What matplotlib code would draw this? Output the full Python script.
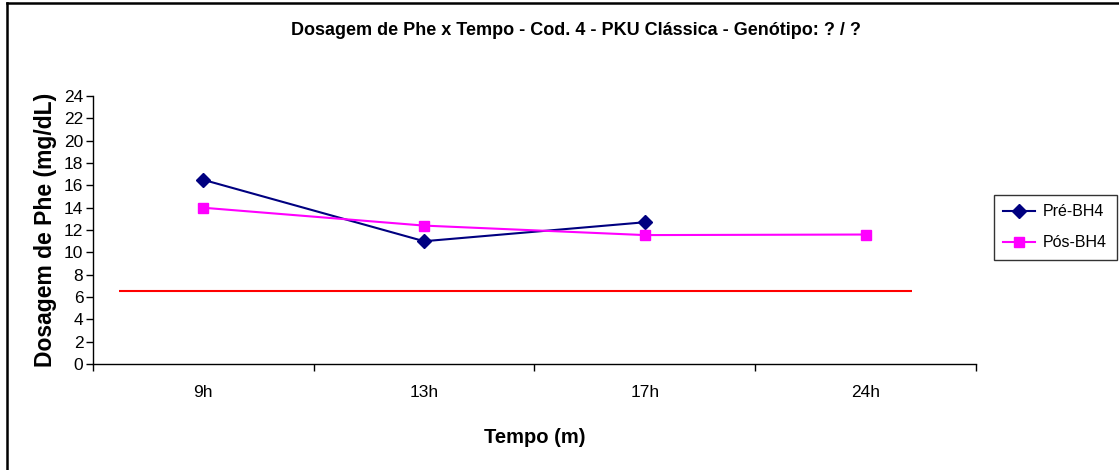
import matplotlib.pyplot as plt
from matplotlib.lines import Line2D

plt.rcParams["font.family"] = ["Liberation Sans", "DejaVu Sans"]

# Phe levels (mg/dL) at each collection time
tempos = ["9h", "13h", "17h", "24h"]
pre_bh4 = [16.5, 11.0, 12.7]
pos_bh4 = [14.0, 12.4, 11.55, 11.6]

# reference level and its horizontal extent (category units)
ref_level = 6.5
ref_start, ref_end = 0.12, 3.71

fig = plt.figure(figsize=(11.19, 4.70), dpi=100)
ax = fig.add_axes([0.0831, 0.2255, 0.789, 0.570])

x_pre = [i + 0.5 for i in range(len(pre_bh4))]
x_pos = [i + 0.5 for i in range(len(pos_bh4))]

ax.hlines(ref_level, ref_start, ref_end, color="#FF0000", lw=1.5, zorder=2)
ax.plot(x_pre, pre_bh4, color="#000080", lw=1.5, marker="D", ms=7,
        label="Pré-BH4", zorder=3)
ax.plot(x_pos, pos_bh4, color="#FF00FF", lw=1.5, marker="s", ms=7,
        label="Pós-BH4", zorder=3)

ax.set_xlim(0, len(tempos))
ax.set_ylim(0, 24)
ax.set_yticks(range(0, 25, 2))
ax.tick_params(axis="y", labelsize=12.5, length=5, width=1, pad=2)

# category ticks between bins, labels at centres
ax.set_xticks(range(len(tempos) + 1))
ax.set_xticklabels([""] * (len(tempos) + 1))
ax.set_xticks([i + 0.5 for i in range(len(tempos))], minor=True)
ax.set_xticklabels(tempos, minor=True, fontsize=12.5)
ax.tick_params(axis="x", which="major", length=5, width=1)
ax.tick_params(axis="x", which="minor", length=0, pad=15)

for s in ["top", "right"]:
    ax.spines[s].set_visible(False)
for s in ["left", "bottom"]:
    ax.spines[s].set_linewidth(1)

ax.set_xlabel("Tempo (m)", fontsize=14.5, fontweight="bold", labelpad=20)
ax.set_ylabel("Dosagem de Phe (mg/dL)", fontsize=16.5, fontweight="bold",
              labelpad=5)
fig.text(0.515, 0.935, "Dosagem de Phe x Tempo - Cod. 4 - PKU Clássica - Genótipo: ? / ?",
         ha="center", va="center", fontsize=13, fontweight="bold")

leg = ax.legend(loc="center left", bbox_to_anchor=(1.02, 0.51), fontsize=11.5,
                frameon=True, fancybox=False, edgecolor="black",
                borderpad=0.6, handlelength=2.0, labelspacing=1.0,
                handletextpad=0.5, borderaxespad=0)
leg.get_frame().set_linewidth(1)

# outer chart border: left and top edges
fig.add_artist(Line2D([0.0063, 0.0063], [0.0, 0.993], color="black", lw=1.8,
                      transform=fig.transFigure))
fig.add_artist(Line2D([0.0063, 1.0], [0.993, 0.993], color="black", lw=1.8,
                      transform=fig.transFigure))

fig.savefig("out.png", dpi=100)
